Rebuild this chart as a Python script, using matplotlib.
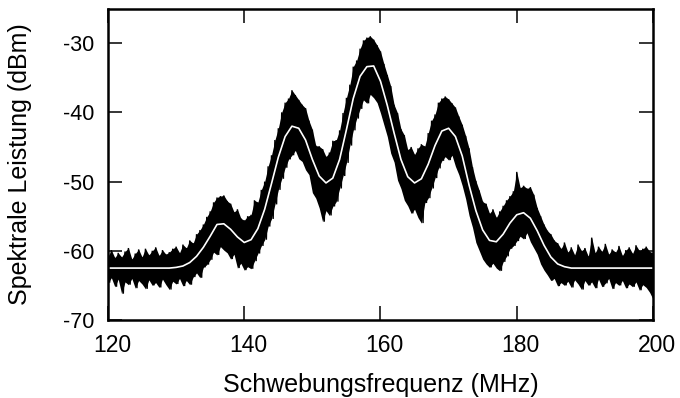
import numpy as np
import matplotlib
matplotlib.use("Agg")
import matplotlib.pyplot as plt
import matplotlib.transforms as mtransforms

plt.rcParams['font.family'] = ['Liberation Sans', 'DejaVu Sans']

# Fit curve (white), 1 MHz steps from 120 to 200
fit_freq = list(range(120, 201))
fit_dbm = [
    -62.5, -62.5, -62.5, -62.5, -62.5, -62.5, -62.5, -62.5, -62.5, -62.5,  # 120-129
    -62.4, -62.2, -61.7, -60.8, -59.5, -57.9, -56.2, -56.1, -56.9, -58.0,  # 130-139
    -58.8, -58.4, -56.8, -54.0, -50.3, -46.5, -43.5, -42.0, -42.3, -44.0,  # 140-149
    -46.8, -49.2, -50.2, -49.5, -46.8, -42.5, -38.0, -34.8, -33.4, -33.3,  # 150-159
    -35.5, -39.0, -43.0, -46.8, -49.3, -50.2, -49.6, -47.5, -44.8, -42.7,  # 160-169
    -42.3, -43.5, -46.3, -50.5, -54.2, -57.0, -58.5, -58.7, -57.6, -56.0,  # 170-179
    -54.8, -54.5, -55.3, -57.1, -59.2, -60.9, -61.9, -62.3, -62.5, -62.5,  # 180-189
    -62.5, -62.5, -62.5, -62.5, -62.5, -62.5, -62.5, -62.5, -62.5, -62.5,  # 190-199
    -62.5,                                                                 # 200
]

# Measured spectrum: upper / lower extremes of the noisy trace, 0.5 MHz steps
meas_freq = [120 + 0.5 * i for i in range(161)]
meas_hi = [
    -60.8, -59.9, -61.0, -60.3, -60.9, -60.1, -59.6, -61.2, -60.4, -59.8,  # 120-124.5
    -60.9, -59.7, -60.6, -60.0, -59.5, -60.7, -59.9, -60.5, -60.2, -59.7,  # 125-129.5
    -59.4, -60.3, -59.1, -59.6, -58.5, -58.9, -57.6, -57.0, -56.2, -55.1,  # 130-134.5
    -54.3, -53.0, -52.3, -52.1, -52.0, -52.8, -53.2, -54.4, -54.0, -55.3,  # 135-139.5
    -55.6, -55.0, -54.8, -52.7, -53.0, -51.2, -50.0, -47.8, -46.2, -44.0,  # 140-144.5
    -42.3, -40.0, -38.6, -38.0, -36.8, -37.5, -38.2, -38.9, -39.4, -41.2,  # 145-149.5
    -42.5, -44.8, -44.9, -45.3, -46.4, -45.8, -44.1, -44.0, -42.6, -40.1,  # 150-154.5
    -37.9, -36.0, -33.4, -32.5, -30.8, -29.6, -29.2, -29.0, -29.5, -30.3,  # 155-159.5
    -31.2, -33.0, -34.6, -36.2, -38.9, -40.1, -42.4, -43.3, -45.4, -45.0,  # 160-164.5
    -46.1, -45.2, -44.6, -44.9, -43.0, -41.2, -40.3, -38.6, -38.0, -37.7,  # 165-169.5
    -38.1, -38.7, -39.3, -40.6, -41.8, -43.4, -45.2, -47.9, -49.9, -51.3,  # 170-174.5
    -52.9, -53.2, -54.6, -54.0, -55.2, -54.3, -53.5, -52.7, -52.1, -51.4,  # 175-179.5
    -48.6, -50.9, -50.6, -51.0, -50.8, -51.9, -53.8, -55.0, -56.2, -57.1,  # 180-184.5
    -57.6, -58.5, -58.9, -59.7, -58.8, -60.2, -59.5, -60.6, -59.1, -60.0,  # 185-189.5
    -59.6, -60.8, -58.1, -60.3, -59.4, -60.1, -59.0, -60.5, -59.8, -60.2,  # 190-194.5
    -59.3, -60.7, -59.9, -59.5, -60.4, -59.2, -60.0, -59.7, -59.4, -60.1,  # 195-199.5
    -60.3,                                                                 # 200
]
meas_lo = [
    -64.6, -63.9, -65.2, -64.1, -66.2, -64.5, -64.9, -64.0, -65.4, -64.3,  # 120-124.5
    -64.8, -65.5, -64.2, -65.0, -64.6, -65.3, -64.1, -64.9, -65.6, -64.4,  # 125-129.5
    -64.8, -64.0, -65.1, -64.3, -64.9, -63.8, -63.2, -63.9, -62.4, -62.0,  # 130-134.5
    -61.3, -60.2, -60.6, -59.4, -59.9, -60.3, -61.2, -60.5, -62.5, -61.8,  # 135-139.5
    -62.8, -62.3, -62.6, -61.5, -60.4, -59.3, -58.4, -56.5, -55.4, -53.3,  # 140-144.5
    -51.2, -49.6, -48.0, -46.8, -46.2, -45.5, -46.7, -47.1, -48.3, -49.0,  # 145-149.5
    -51.6, -52.4, -53.8, -55.8, -54.2, -54.9, -53.6, -52.9, -51.0, -49.2,  # 150-154.5
    -47.3, -44.8, -42.6, -40.9, -39.5, -38.2, -38.7, -37.4, -37.9, -38.6,  # 155-159.5
    -40.1, -41.8, -43.5, -45.9, -47.2, -49.8, -51.0, -52.7, -53.5, -54.6,  # 160-164.5
    -54.0, -55.2, -56.0, -53.1, -52.4, -51.0, -49.5, -48.1, -47.0, -46.4,  # 165-169.5
    -46.9, -46.2, -47.8, -49.0, -50.6, -52.5, -54.9, -56.6, -58.8, -60.0,  # 170-174.5
    -61.2, -61.9, -62.4, -61.8, -62.5, -62.9, -61.6, -60.8, -59.7, -59.3,  # 175-179.5
    -58.6, -57.9, -58.3, -57.4, -58.7, -59.6, -60.5, -61.9, -62.8, -63.5,  # 180-184.5
    -64.3, -64.0, -65.1, -64.6, -65.0, -64.4, -65.3, -64.2, -64.8, -65.6,  # 185-189.5
    -64.3, -65.0, -64.5, -65.4, -64.1, -65.2, -64.7, -64.0, -65.5, -64.6,  # 190-194.5
    -65.0, -64.3, -65.4, -64.8, -65.2, -64.5, -65.7, -64.9, -65.3, -66.0,  # 195-199.5
    -67.0,                                                                 # 200
]

x_ticks = [120, 140, 160, 180, 200]
y_ticks = [-70, -60, -50, -40, -30]
x_label = "Schwebungsfrequenz (MHz)"
y_label = "Spektrale Leistung (dBm)"

fig = plt.figure(figsize=(6.8, 3.98), dpi=100)
ax = fig.add_axes([0.1588, 0.196, 0.8015, 0.7826])

# zigzag trace through the upper and lower extremes
step = meas_freq[1] - meas_freq[0]
zx, zy = [], []
for f, h, l in zip(meas_freq, meas_hi, meas_lo):
    zx += [f, f + step / 2]
    zy += [h, l]
ax.fill_between(meas_freq, meas_hi, meas_lo, color='black', lw=0)
ax.plot(zx, zy, color='black', lw=1.0, solid_joinstyle='miter')
ax.plot(fit_freq, fit_dbm, color='white', lw=1.2)

ax.set_xlim(120, 200)
ax.set_ylim(-70, -25)
ax.set_xticks(x_ticks)
ax.set_yticks(y_ticks)
ax.set_xticklabels([str(v) for v in x_ticks])
ax.set_yticklabels([str(v) for v in y_ticks])
ax.tick_params(direction='in', length=10, width=1.1, top=True, right=True,
               colors='black')
ax.tick_params(axis='x', pad=10, labelsize=16.5)
ax.tick_params(axis='y', pad=10, labelsize=15.5)
offset = mtransforms.ScaledTranslation(4 / 100, 0, fig.dpi_scale_trans)
for lab in ax.get_xticklabels():
    lab.set_transform(lab.get_transform() + offset)
for s in ax.spines.values():
    s.set_linewidth(1.8)
ax.set_xlabel(x_label, fontsize=18, va='center')
ax.set_ylabel(y_label, fontsize=18, va='center')
ax.xaxis.set_label_coords(0.5, -0.21)
ax.yaxis.set_label_coords(-0.161, 0.5)

fig.savefig('out.png', dpi=100)
